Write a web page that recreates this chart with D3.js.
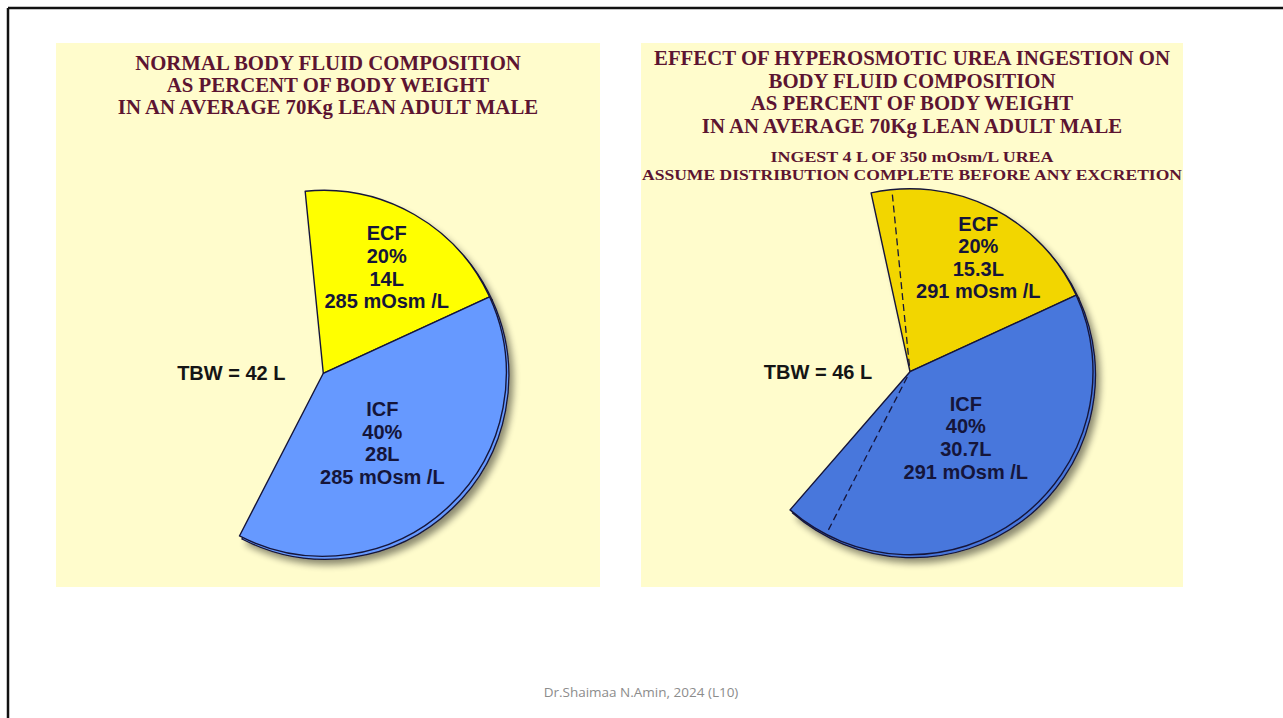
<!DOCTYPE html>
<html>
<head>
<meta charset="utf-8">
<script src="https://cdn.jsdelivr.net/npm/d3@7/dist/d3.min.js"></script>
<style>
  html, body { margin: 0; padding: 0; background: #ffffff; }
  svg { display: block; }
</style>
</head>
<body>
<svg id="slide" width="1283" height="718"></svg>
<script>
// ---- data -------------------------------------------------------------
const compartments   = ["ECF", "ICF"];
const percentLabels  = ["20%", "40%"];
const normalVolumes  = [14, 28];        // litres
const normalOsm      = [285, 285];      // mOsm/L
const ureaVolumes    = [15.3, 30.7];    // litres after urea load
const ureaOsm        = [291, 291];
const normalTBW      = 42;
const ureaTBW        = 46;

const normalTitle = [
  "NORMAL BODY FLUID COMPOSITION",
  "AS PERCENT OF BODY WEIGHT",
  "IN AN AVERAGE 70Kg LEAN ADULT MALE"
];
const ureaTitle = [
  "EFFECT OF HYPEROSMOTIC UREA INGESTION ON",
  "BODY FLUID COMPOSITION",
  "AS PERCENT OF BODY WEIGHT",
  "IN AN AVERAGE 70Kg LEAN ADULT MALE"
];
const ureaNotes = [
  "INGEST 4 L OF 350 mOsm/L UREA",
  "ASSUME DISTRIBUTION COMPLETE BEFORE ANY EXCRETION"
];
const footerText = "Dr.Shaimaa N.Amin, 2024 (L10)";

// ---- layout -----------------------------------------------------------
const svg = d3.select("#slide");
const TITLE_COLOR = "#5c1431";
const INK = "#15153a";
const RADIUS = 183;
const BOUNDARY_DEG = 65.3;              // ECF/ICF dividing edge, clockwise from 12 o'clock
const deg = d => d * Math.PI / 180;

// litres -> sweep angle
const sweep = d3.scaleLinear().domain([0, 71]).range([0, 2 * Math.PI]);

// slide frame
svg.append("line").attr("x1", 8).attr("y1", 8).attr("x2", 1283).attr("y2", 8)
  .attr("stroke", "#111").attr("stroke-width", 2.5);
svg.append("line").attr("x1", 8).attr("y1", 8).attr("x2", 8).attr("y2", 718)
  .attr("stroke", "#111").attr("stroke-width", 2.5);

// drop shadow for the pies
const defs = svg.append("defs");
const f = defs.append("filter").attr("id", "pieShadow")
  .attr("x", "-20%").attr("y", "-20%").attr("width", "140%").attr("height", "140%");
f.append("feGaussianBlur").attr("in", "SourceAlpha").attr("stdDeviation", 3.5).attr("result", "b");
f.append("feOffset").attr("in", "b").attr("dx", 4).attr("dy", 5).attr("result", "o");
f.append("feComponentTransfer").attr("in", "o").attr("result", "s")
  .append("feFuncA").attr("type", "linear").attr("slope", 0.45);
const fm = f.append("feMerge");
fm.append("feMergeNode").attr("in", "s");
fm.append("feMergeNode").attr("in", "SourceGraphic");

function panel(opts) {
  const g = svg.append("g").attr("transform", `translate(${opts.x},${opts.y})`);
  g.append("rect").attr("width", opts.w).attr("height", opts.h).attr("fill", "#fffccc");

  // titles
  g.selectAll("text.title").data(opts.title).join("text")
    .attr("class", "title")
    .attr("x", opts.w / 2)
    .attr("y", (d, i) => opts.titleY + i * opts.titleStep)
    .attr("text-anchor", "middle")
    .attr("font-family", "'Liberation Serif', 'Times New Roman', serif")
    .attr("font-weight", "bold")
    .attr("font-size", 20.8)
    .attr("fill", TITLE_COLOR)
    .text(d => d);

  if (opts.notes) {
    g.selectAll("text.note").data(opts.notes).join("text")
      .attr("class", "note")
      .attr("x", opts.w / 2)
      .attr("y", (d, i) => opts.notesY + i * 18)
      .attr("text-anchor", "middle")
      .attr("font-family", "'Liberation Serif', 'Times New Roman', serif")
      .attr("font-weight", "bold")
      .attr("font-size", 15.5)
      .attr("textLength", (d, i) => opts.notesWidth[i])
      .attr("lengthAdjust", "spacingAndGlyphs")
      .attr("fill", TITLE_COLOR)
      .text(d => d);
  }

  // pie
  const pg = g.append("g").attr("transform", `translate(${opts.cx},${opts.cy})`);
  const b = deg(BOUNDARY_DEG);
  const slices = compartments.map((name, i) => {
    const a = sweep(opts.volumes[i]);
    return i === 0
      ? { name, i, startAngle: b - a, endAngle: b }
      : { name, i, startAngle: b, endAngle: b + a };
  });
  const arc = d3.arc().innerRadius(0).outerRadius(RADIUS);

  // extruded rim behind the face
  pg.append("g").attr("transform", "translate(2.5,3)").attr("filter", "url(#pieShadow)")
    .selectAll("path").data(slices).join("path")
    .attr("d", arc)
    .attr("fill", d => opts.colors[d.i])
    .attr("stroke", INK).attr("stroke-width", 1.3);

  pg.append("g").selectAll("path").data(slices).join("path")
    .attr("d", arc)
    .attr("fill", d => opts.colors[d.i])
    .attr("stroke", INK).attr("stroke-width", 1.4)
    .attr("stroke-linejoin", "round");

  // dashed edges of the original compartments
  if (opts.before) {
    const edges = [b - sweep(opts.before[0]), b + sweep(opts.before[1])];
    pg.selectAll("line.before").data(edges).join("line")
      .attr("class", "before")
      .attr("x1", a => 6 * Math.sin(a)).attr("y1", a => -6 * Math.cos(a))
      .attr("x2", a => (RADIUS - 1) * Math.sin(a)).attr("y2", a => -(RADIUS - 1) * Math.cos(a))
      .attr("stroke", INK).attr("stroke-width", 1.3)
      .attr("stroke-dasharray", "7,4");
  }

  // slice labels, placed relative to the dividing edge
  const labelAngle = [b - deg(34.4), b + deg(74.5)];
  slices.forEach(s => {
    const r = opts.labelR[s.i];
    const lx = r * Math.sin(labelAngle[s.i]);
    const ly = -r * Math.cos(labelAngle[s.i]);
    const lines = [
      s.name,
      percentLabels[s.i],
      opts.volumes[s.i] + "L",
      opts.osm[s.i] + " mOsm /L"
    ];
    pg.append("g").selectAll("text").data(lines).join("text")
      .attr("x", lx)
      .attr("y", (d, j) => ly + (j - 1.5) * 22.6 + 7)
      .attr("text-anchor", "middle")
      .attr("font-family", "'Liberation Sans', Arial, Helvetica, sans-serif")
      .attr("font-weight", "bold")
      .attr("font-size", 20)
      .attr("fill", INK)
      .text(d => d);
  });

  pg.append("text")
    .attr("x", -92).attr("y", 7)
    .attr("text-anchor", "middle")
    .attr("font-family", "'Liberation Sans', Arial, Helvetica, sans-serif")
    .attr("font-weight", "bold")
    .attr("font-size", 20)
    .attr("fill", "#151515")
    .text(`TBW = ${opts.tbw} L`);
}

panel({
  x: 56, y: 43, w: 544, h: 544,
  title: normalTitle, titleY: 27, titleStep: 22,
  cx: 267.3, cy: 330.3,
  volumes: normalVolumes, osm: normalOsm, tbw: normalTBW,
  labelR: [123.5, 91.5],
  colors: ["#ffff00", "#6699ff"]
});

panel({
  x: 641, y: 43, w: 542, h: 544,
  title: ureaTitle, titleY: 22, titleStep: 22.7,
  notes: ureaNotes, notesY: 119, notesWidth: [283, 540],
  cx: 269, cy: 328.7,
  volumes: ureaVolumes, osm: ureaOsm, tbw: ureaTBW,
  before: normalVolumes,
  labelR: [133, 86.5],
  colors: ["#f2d600", "#4877dc"]
});

// footer
svg.append("text")
  .attr("x", 641).attr("y", 697)
  .attr("text-anchor", "middle")
  .attr("font-family", "'Open Sans', 'Noto Sans', sans-serif")
  .attr("font-size", 13.5)
  .attr("fill", "#8c8c8c")
  .text(footerText);
</script>
</body>
</html>
